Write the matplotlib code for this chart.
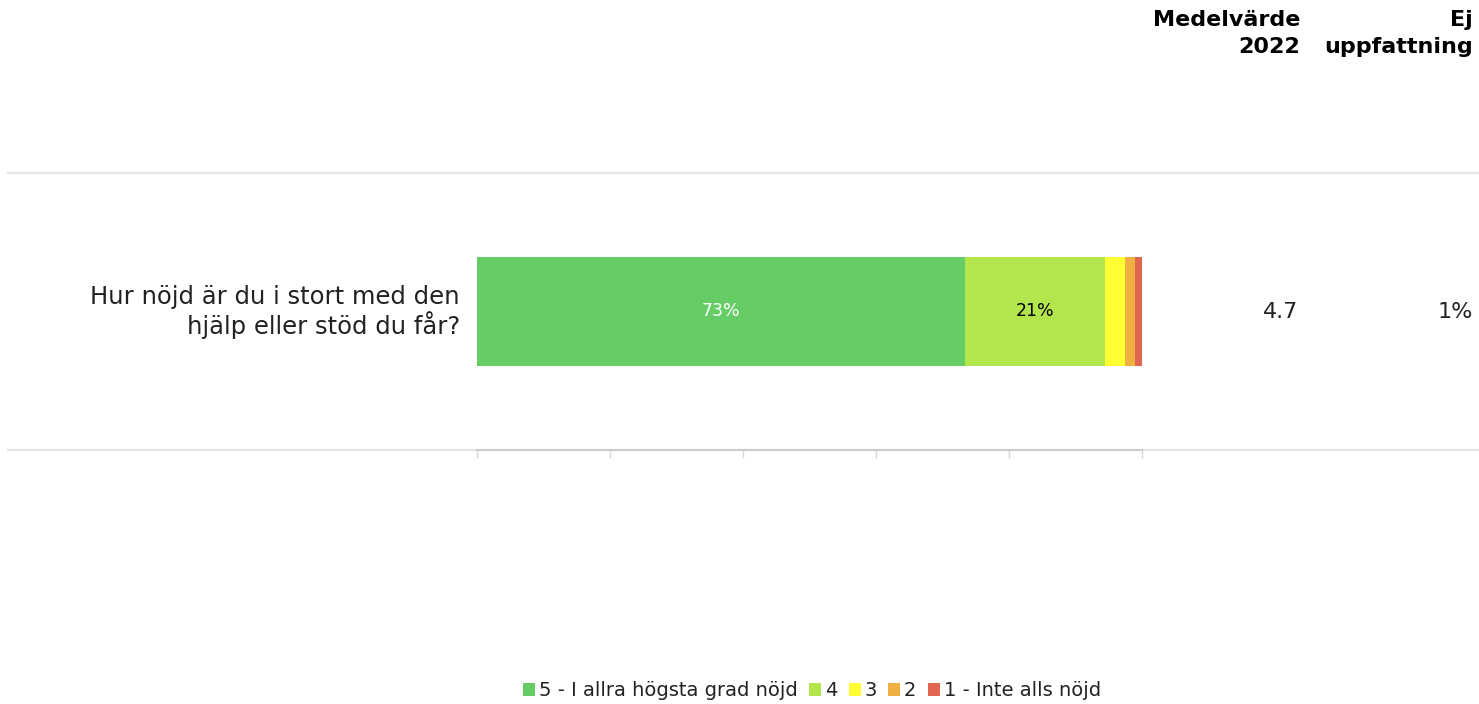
import numpy as np
import matplotlib.pyplot as plt
from matplotlib.lines import Line2D
from matplotlib.patches import Patch

plt.rcParams['font.family'] = ['DejaVu Sans']

question = 'Hur nöjd är du i stort med den\nhjälp eller stöd du får?'
categories = ['5 - I allra högsta grad nöjd', '4', '3', '2', '1 - Inte alls nöjd']
shares = [73.4, 21.1, 2.9, 1.6, 1.0]
bar_labels = ['73%', '21%', '', '', '']
mean_2022 = '4.7'
no_opinion = '1%'
colors = ['#66cc66', '#b3e64d', '#ffff33', '#f0b041', '#e06650']
label_colors = ['white', 'black', 'black', 'black', 'black']

W, H = 1479, 704
fig = plt.figure(figsize=(W / 100, H / 100), dpi=100)

# full width grid lines (drawn under the bar axes)
for ypx in (173, 450):
    fig.add_artist(Line2D([8 / W, 1], [(H - ypx) / H] * 2, color='#e3e3e3', lw=1.5, zorder=0))

# bar axes: x 477..1142 px, y 173..450 px
ax = fig.add_axes([477 / W, (H - 450) / H, 665 / W, 277 / H])
ax.patch.set_alpha(0)
left = 0
for val, col, lab, lc in zip(shares, colors, bar_labels, label_colors):
    ax.barh(0, val, left=left, height=0.39, color=col, edgecolor='none')
    if lab:
        ax.text(left + val / 2, 0, lab, ha='center', va='center', color=lc, fontsize=12.5)
    left += val

ax.set_xlim(0, 100)
ax.set_ylim(-0.5, 0.5)
ax.set_xticks(np.arange(0, 101, 20))
ax.set_xticklabels([])
ax.set_yticks([])
ax.tick_params(axis='x', length=6, color='#d8d8d8', width=1)
for s in ['top', 'left', 'right']:
    ax.spines[s].set_visible(False)
ax.spines['bottom'].set_color('#cccccc')
ax.spines['bottom'].set_linewidth(1.5)

fig.text(460 / W, (H - 312) / H, question, ha='right', va='center', fontsize=17.5,
         linespacing=1.1, color='#222222')
fig.text(1298 / W, (H - 312) / H, mean_2022, ha='right', va='center', fontsize=16, color='#222222')
fig.text(1473 / W, (H - 312) / H, no_opinion, ha='right', va='center', fontsize=16, color='#222222')

fig.text(1300 / W, (H - 10) / H, 'Medelvärde\n2022', ha='right', va='top', fontsize=16,
         fontweight='bold', linespacing=1.45)
fig.text(1473 / W, (H - 10) / H, 'Ej\nuppfattning', ha='right', va='top', fontsize=16,
         fontweight='bold', linespacing=1.45)

handles = [Patch(facecolor=c, edgecolor='none') for c in colors]
fig.legend(handles, categories, loc='center', bbox_to_anchor=(812 / W, (H - 691) / H),
           ncol=5, frameon=False, fontsize=14, handlelength=0.6, handleheight=0.6,
           handletextpad=0.2, columnspacing=0.6, labelcolor='#222222')

fig.savefig('out.png', dpi=100)
